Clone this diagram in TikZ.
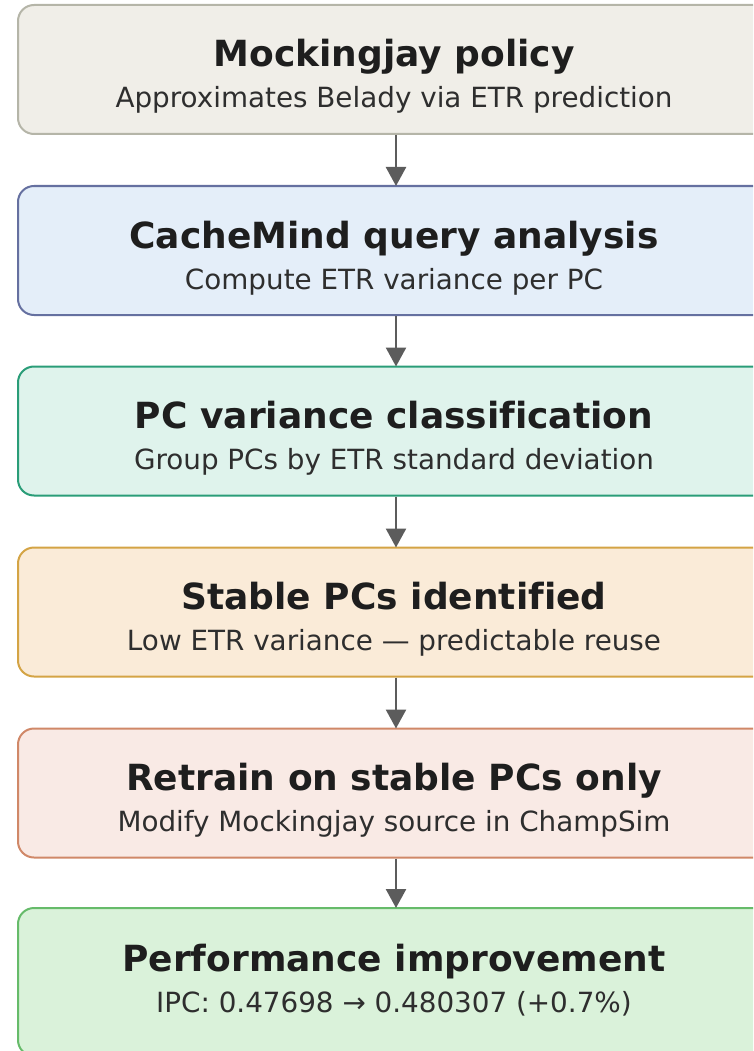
\documentclass[tikz,border=0pt]{standalone}
\usepackage{fontspec}
\setmainfont[Ligatures={NoCommon}]{DejaVu Sans}
\usetikzlibrary{arrows.meta}

% box palette: fill / border
\definecolor{grayF}{HTML}{F0EEE8}\definecolor{grayD}{HTML}{B5B5A8}
\definecolor{blueF}{HTML}{E4EEF9}\definecolor{blueD}{HTML}{6570A0}
\definecolor{tealF}{HTML}{DFF3EC}\definecolor{tealD}{HTML}{2A9D78}
\definecolor{orngF}{HTML}{FAEBD8}\definecolor{orngD}{HTML}{D4A445}
\definecolor{salmF}{HTML}{F9EAE5}\definecolor{salmD}{HTML}{D08868}
\definecolor{grenF}{HTML}{DAF2DA}\definecolor{grenD}{HTML}{66BB6A}
\definecolor{titleC}{HTML}{1E1E1E}
\definecolor{subC}{HTML}{2E2E2E}
\definecolor{arrowC}{HTML}{5C5C5C}

\tikzset{
  stage/.style 2 args={draw=#2, fill=#1, line width=2pt, rounded corners=16pt,
    minimum width=756pt, minimum height=129pt, inner sep=0pt},
  ttl/.style={anchor=base, font=\fontsize{36}{42}\selectfont\bfseries, text=titleC, inner sep=0pt},
  sub/.style={anchor=base, font=\fontsize{27.8}{32}\selectfont, text=subC, inner sep=0pt},
  flow/.style={draw=arrowC, line width=2.5pt, -{Triangle[length=19pt,width=20pt]}, shorten >=-1pt}
}

\begin{document}
\begin{tikzpicture}[x=1pt,y=-1pt]
\useasboundingbox (0,0) rectangle (753,1051);
\clip (0,0) rectangle (753,1051);

\node[stage={grayF}{grayD}] (b1) at (396,69.5) {};
\node[stage={blueF}{blueD}] (b2) at (396,250.5) {};
\node[stage={tealF}{tealD}] (b3) at (396,431) {};
\node[stage={orngF}{orngD}] (b4) at (396,612) {};
\node[stage={salmF}{salmD}] (b5) at (396,793) {};
\node[stage={grenF}{grenD}, minimum height=148pt] (b6) at (396,982) {};

\node[ttl] (t1) at (394,67) {Mockingjay policy};
\node[sub] (s1) at (394,108) {Approximates Belady via ETR prediction};

\node[ttl] (t2) at (394,248) {CacheMind query analysis};
\node[sub] (s2) at (394,289) {Compute ETR variance per PC};

\node[ttl] (t3) at (394,428.5) {PC variance classification};
\node[sub] (s3) at (394,469.5) {Group PCs by ETR standard deviation};

\node[ttl] (t4) at (394,609.5) {Stable PCs identified};
\node[sub] (s4) at (394,650.5) {Low ETR variance — predictable reuse};

\node[ttl] (t5) at (394,790.5) {Retrain on stable PCs only};
\node[sub] (s5) at (394,831.5) {Modify Mockingjay source in ChampSim};

\node[ttl] (t6) at (394,971) {Performance improvement};
\node[sub] (s6) at (394,1012) {IPC: 0.47698 → 0.480307 (+0.7\%)};

\draw[flow] (b1.south) -- (b2.north);
\draw[flow] (b2.south) -- (b3.north);
\draw[flow] (b3.south) -- (b4.north);
\draw[flow] (b4.south) -- (b5.north);
\draw[flow] (b5.south) -- (b6.north);
\end{tikzpicture}
\end{document}
